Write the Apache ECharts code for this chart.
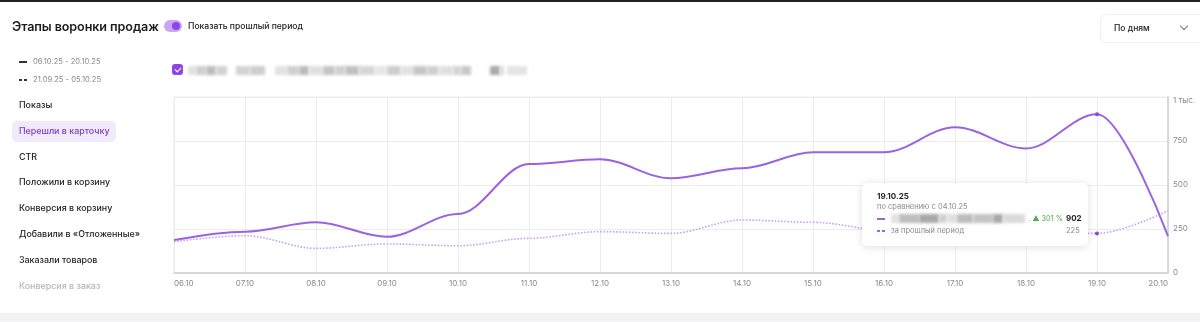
<!DOCTYPE html>
<html><head><meta charset="utf-8">
<script src="https://cdn.jsdelivr.net/npm/echarts@6/dist/echarts.min.js"></script>
<style>
html,body{margin:0;padding:0;width:1200px;height:322px;overflow:hidden;background:#fff;font-family:Inter,"Noto Sans",sans-serif;}
#top{position:absolute;left:0;top:0;width:1200px;height:2px;background:#222;}
#bot{position:absolute;left:0;top:313px;width:1200px;height:9px;background:#f3f3f5;}
#chart{position:absolute;left:0;top:0;width:1200px;height:322px;}
.abs{position:absolute;white-space:nowrap;}
#title{left:12px;top:19px;font-size:12.6px;font-weight:600;color:#1d1d1f;letter-spacing:-0.1px;}
#toggle{left:164px;top:20px;width:18px;height:12px;border-radius:6px;background:#c9a6f3;}
#toggle i{position:absolute;right:2px;top:2px;width:8px;height:8px;border-radius:4px;background:#8e44e6;}
#tlabel{left:188px;top:21px;font-size:8.6px;color:#222;font-weight:500;}
#dd{left:1100px;top:14px;width:100px;height:27px;border:1px solid #f0f0f2;border-right:none;border-radius:6px 0 0 6px;}
#ddtxt{left:1114px;top:23px;font-size:8.5px;color:#222;font-weight:500;}
#ddch{left:1181px;top:23px;width:5px;height:5px;border-right:1.2px solid #777;border-bottom:1.2px solid #777;transform:rotate(45deg);}
.leg{font-size:7.6px;color:#8a8a8e;left:33px;}
.legl{left:19px;width:8px;height:0;border-top:2px solid #333;}
.legd{width:3px;height:2px;background:#333;}
.menu{left:19px;font-size:8.9px;color:#1d1d1f;font-weight:500;}
#sel{left:12px;top:121px;width:104px;height:21px;border-radius:5px;background:#f1e9fc;}
#cb{left:172px;top:64px;width:11px;height:11px;border-radius:3px;background:#8e44e6;}
#cb:after{content:"";position:absolute;left:3.5px;top:2px;width:3px;height:5px;border-right:1.5px solid #fff;border-bottom:1.5px solid #fff;transform:rotate(45deg);}
.blur{height:9px;filter:blur(1.5px);}
#tip{left:862px;top:183px;width:226px;height:63px;background:#fff;border-radius:5px;box-shadow:0 1px 8px rgba(0,0,0,0.13);}
.t{position:absolute;white-space:nowrap;}
</style></head>
<body>
<div id="top"></div>
<div id="bot"></div>
<div id="chart"></div>
<div class="abs" id="title">Этапы воронки продаж</div>
<div class="abs" id="toggle"><i></i></div>
<div class="abs" id="tlabel">Показать прошлый период</div>
<div class="abs" id="dd"></div>
<div class="abs" id="ddtxt">По дням</div>
<div class="abs" id="ddch"></div>
<div class="abs legl" style="top:61px"></div>
<div class="abs leg" style="top:57px">06.10.25 - 20.10.25</div>
<div class="abs legd" style="left:19px;top:79px"></div>
<div class="abs legd" style="left:24px;top:79px"></div>
<div class="abs leg" style="top:75px">21.09.25 - 05.10.25</div>
<div class="abs" id="sel"></div>
<div id="menuwrap"></div>
<div class="abs" id="cb"></div>
<div id="blurs"></div>
<div class="abs" id="tip">
  <div class="t" style="left:15px;top:8px;font-size:8px;font-weight:700;color:#1d1d1f">19.10.25</div>
  <div class="t" style="left:15px;top:19px;font-size:7.5px;color:#8a8a8e">по сравнению с 04.10.25</div>
  <div class="t" style="left:15px;top:35px;width:8px;border-top:2px solid #9d62e0"></div>
  <div id="tipblur"></div>
  <div class="t" style="left:166px;top:31px;font-size:7.3px;color:#4caf50">. ▲ 301 %</div>
  <div class="t" style="left:204px;top:30px;font-size:8px;font-weight:700;color:#1d1d1f">902</div>
  <div class="t" style="left:15px;top:47px;width:3px;height:2px;background:#9d62e0"></div>
  <div class="t" style="left:20px;top:47px;width:3px;height:2px;background:#9d62e0"></div>
  <div class="t" style="left:29px;top:43px;font-size:7.5px;color:#8a8a8e">за прошлый период</div>
  <div class="t" style="left:204px;top:43px;font-size:7.5px;color:#8a8a8e">225</div>
</div>
<script>
var categories = ['06.10','07.10','08.10','09.10','10.10','11.10','12.10','13.10','14.10','15.10','16.10','17.10','18.10','19.10','20.10'];
var currentPeriod = [187, 235, 288, 206, 335, 619, 646, 538, 595, 686, 686, 828, 708, 902, 210];
var previousPeriod = [178, 212, 140, 165, 155, 197, 235, 225, 301, 288, 245, 232, 226, 225, 354];
var yTicks = [0, 250, 500, 750, 1000];
var menuItems = ['Показы','Перешли в карточку','CTR','Положили в корзину','Конверсия в корзину','Добавили в «Отложенные»','Заказали товаров','Конверсия в заказ'];
var hoverIndex = 13;

// menu
var mw = document.getElementById('menuwrap');
menuItems.forEach(function(m, i){
  var d = document.createElement('div');
  d.className = 'abs menu';
  d.style.top = (99 + i*25.8) + 'px';
  d.textContent = m;
  if (i === 1) d.style.color = '#7b3fc7';
  if (i === menuItems.length-1) d.style.color = '#b5b5ba';
  mw.appendChild(d);
});
// blurred label blocks (pixelated hidden text)
var blurBlocks = [[188,8,'#e0e0e0'],[196,10,'#cfcfcf'],[206,10,'#bdbdbd'],[216,11,'#d2d2d2'],[236,14,'#d3d3d3'],[250,15,'#cdcdcd'],[275,12,'#e2e2e2'],[287,12,'#d0d0d0'],[299,10,'#bbb'],[309,14,'#e0e0e0'],[323,12,'#c4c4c4'],[335,10,'#d0d0d0'],[345,14,'#c0c0c0'],[359,16,'#d6d6d6'],[375,12,'#e6e6e6'],[387,14,'#cdcdcd'],[401,12,'#e2e2e2'],[413,14,'#c6c6c6'],[427,12,'#cfcfcf'],[439,14,'#e0e0e0'],[453,8,'#d4d4d4'],[461,10,'#c8c8c8'],[490,10,'#aaa'],[500,4,'#ddd'],[507,20,'#e4e4e4']];
var bw = document.getElementById('blurs');
blurBlocks.forEach(function(b){
  var d = document.createElement('div');
  d.className = 'abs blur';
  d.style.left = b[0]+'px'; d.style.top = '66px'; d.style.width = b[1]+'px'; d.style.background = b[2];
  bw.appendChild(d);
});
var tipBlocks = [[29,8,'#e2e2e2'],[37,20,'#bdbdbd'],[57,20,'#a8a8a8'],[77,8,'#cfcfcf'],[85,10,'#e0e0e0'],[95,16,'#bcbcbc'],[111,20,'#c4c4c4'],[131,10,'#a9a9a9'],[141,22,'#dadada']];
var tw = document.getElementById('tipblur');
tipBlocks.forEach(function(b){
  var d = document.createElement('div');
  d.className = 't blur';
  d.style.left = b[0]+'px'; d.style.top = '31px'; d.style.width = b[1]+'px'; d.style.background = b[2];
  tw.appendChild(d);
});

var chart = echarts.init(document.getElementById('chart'), null, {renderer:'canvas'});
function symSize(v, p){ return p.dataIndex === hoverIndex ? 4 : 0; }
chart.setOption({
  animation:false,
  grid:{left:174, right:32, top:97, bottom:49, show:true, borderColor:'#ececef', borderWidth:1},
  xAxis:{type:'category', data:categories, boundaryGap:false,
    axisLine:{lineStyle:{color:'#cfcfd4', width:1.5}}, axisTick:{show:false},
    splitLine:{show:true, lineStyle:{color:'#ececef'}},
    axisLabel:{color:'#8a8a8e', fontSize:8, margin:7, fontFamily:'Inter', alignMinLabel:'left', alignMaxLabel:'right', interval:0}},
  yAxis:{type:'value', position:'right', min:yTicks[0], max:yTicks[yTicks.length-1], interval:250,
    axisLine:{show:true, lineStyle:{color:'#cfcfd4', width:1.5}}, axisTick:{show:false},
    splitLine:{lineStyle:{color:'#ececef'}},
    axisLabel:{color:'#8a8a8e', fontSize:8, margin:5, fontFamily:'Inter', showMinLabel:true, showMaxLabel:true, hideOverlap:false,
      verticalAlignMaxLabel:'top',
      formatter:function(v){ return v >= 1000 ? (v/1000)+' тыс.' : String(v); }}},
  series:[
    {type:'line', name:'prev', data:previousPeriod, smooth:0.35, smoothMonotone:'x',
      symbol:'circle', symbolSize:symSize, showSymbol:true,
      itemStyle:{color:'#8e44e6'},
      lineStyle:{color:'#c6a3ef', width:1.6, type:'dotted'}, z:2},
    {type:'line', name:'cur', data:currentPeriod, smooth:0.35, smoothMonotone:'x',
      symbol:'circle', symbolSize:symSize, showSymbol:true,
      itemStyle:{color:'#8e44e6'},
      lineStyle:{color:'#9d62e0', width:2}, z:3}
  ]
});
</script>
</body></html>
